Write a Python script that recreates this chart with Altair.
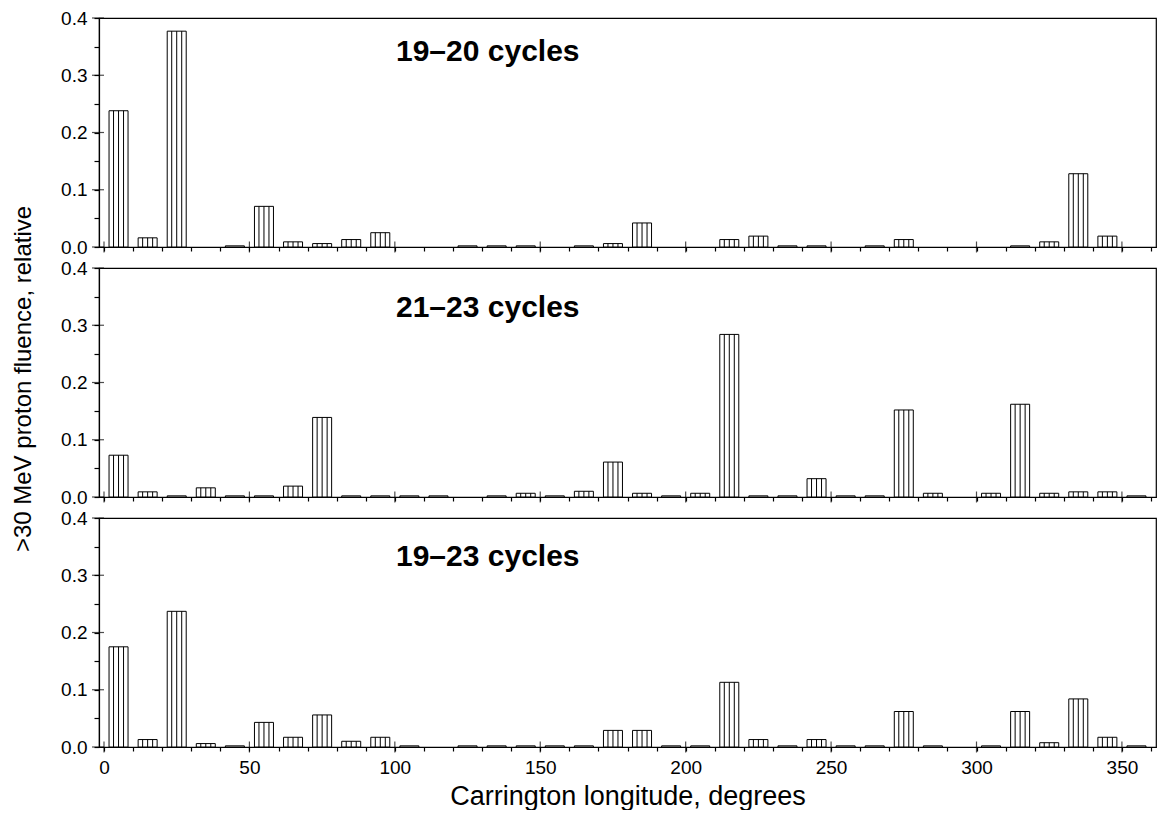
import altair as alt
import pandas as pd

FONT = "Liberation Sans, Arial, sans-serif"

# Carrington longitude bin centres (10-degree bins)
LON = [5, 15, 25, 35, 45, 55, 65, 75, 85, 95, 105, 115, 125, 135, 145, 155, 165, 175,
       185, 195, 205, 215, 225, 235, 245, 255, 265, 275, 285, 295, 305, 315, 325, 335, 345, 355]

C19_20 = [0.238, 0.016, 0.377, 0, 0.002, 0.071, 0.009, 0.006, 0.013, 0.025, 0, 0,
          0.002, 0.002, 0.002, 0, 0.002, 0.006, 0.042, 0, 0, 0.013, 0.019, 0.002,
          0.002, 0, 0.002, 0.013, 0, 0, 0, 0.002, 0.009, 0.128, 0.019, 0]

C21_23 = [0.073, 0.009, 0.002, 0.016, 0.002, 0.002, 0.019, 0.139, 0.002, 0.002, 0.002, 0.002,
          0, 0.002, 0.0065, 0.002, 0.010, 0.061, 0.0065, 0.002, 0.0065, 0.284, 0.002, 0.002,
          0.032, 0.002, 0.002, 0.152, 0.0065, 0, 0.0065, 0.162, 0.0065, 0.009, 0.009, 0.002]

C19_23 = [0.175, 0.013, 0.237, 0.006, 0.002, 0.043, 0.017, 0.056, 0.010, 0.017, 0.002, 0,
          0.002, 0.002, 0.002, 0.002, 0.002, 0.029, 0.029, 0.002, 0.002, 0.113, 0.013, 0.002,
          0.013, 0.002, 0.002, 0.062, 0.002, 0, 0.002, 0.062, 0.0075, 0.084, 0.017, 0.002]

LABELS = ["19\u201320 cycles", "21\u201323 cycles", "19\u201323 cycles"]

X_TICKS = [0, 10, 20, 30, 40, 50, 60, 70, 80, 90, 100, 110, 120, 130, 140, 150, 160, 170, 180,
           190, 200, 210, 220, 230, 240, 250, 260, 270, 280, 290, 300, 310, 320, 330, 340, 350, 360]
X_MAJOR = [0, 50, 100, 150, 200, 250, 300, 350]
Y_TICKS = [0.0, 0.05, 0.1, 0.15, 0.2, 0.25, 0.3, 0.35, 0.4]
Y_MAJOR = [0.0, 0.1, 0.2, 0.3, 0.4]

X_TITLE = "Carrington longitude, degrees"
Y_TITLE = ">30 MeV proton fluence, relative"

W = 1057
H = 229

xscale = alt.Scale(domain=[0, 360], nice=False, zero=False)
yscale = alt.Scale(domain=[0, 0.4], nice=False)


def panel(values, label, label_y, show_x):
    df = pd.DataFrame({"lon": LON, "value": values})
    df = df[df["value"] > 0]

    xaxis = alt.Axis(
        values=X_TICKS, tickSize=4, labels=show_x, labelFlush=False, labelOverlap=False,
        labelExpr="datum.value % 50 == 0 && datum.value < 360 ? datum.label : ''",
        labelPadding=7, titlePadding=6, grid=False, titleFontSize=27,
        title=X_TITLE if show_x else "",
    )
    yaxis = alt.Axis(
        values=Y_TICKS, tickSize=5, labelPadding=7, labelOverlap=False, grid=False,
        labelExpr="round(datum.value * 100) % 10 == 0 ? format(datum.value, '.1f') : ''",
        title="",
    )

    bars = alt.Chart(df).mark_bar(
        orient="vertical", size=19, fill="white", stroke="black", strokeWidth=1
    ).encode(
        x=alt.X("lon:Q", scale=xscale, axis=xaxis),
        y=alt.Y("value:Q", scale=yscale, axis=yaxis),
    )

    hatch_layers = []
    for off in (-5, 0, 5):
        hatch_layers.append(
            alt.Chart(df).transform_filter("datum.value > 0.004").mark_rule(
                color="black", strokeWidth=1, xOffset=off
            ).encode(
                x=alt.X("lon:Q", scale=xscale, axis=xaxis),
                y=alt.Y("value:Q", scale=yscale, axis=yaxis),
                y2=alt.datum(0),
            )
        )

    xt = alt.Chart(pd.DataFrame({"lon": X_MAJOR})).mark_tick(
        orient="vertical", size=11, thickness=1.2, color="black"
    ).encode(
        x=alt.X("lon:Q", scale=xscale, axis=xaxis),
        y=alt.value(H),
    )
    yt = alt.Chart(pd.DataFrame({"value": Y_MAJOR})).mark_tick(
        orient="horizontal", size=12, thickness=1.2, color="black"
    ).encode(
        y=alt.Y("value:Q", scale=yscale, axis=yaxis),
        x=alt.value(-1),
    )

    txt = alt.Chart(pd.DataFrame({"t": [label]})).mark_text(
        align="left", baseline="alphabetic", fontSize=30, fontWeight="bold",
        font=FONT, color="black"
    ).encode(
        x=alt.value(297),
        y=alt.value(label_y),
        text="t:N",
    )

    return alt.layer(bars, *hatch_layers, xt, yt, txt).properties(width=W, height=H)


p1 = panel(C19_20, LABELS[0], 43, False)
p2 = panel(C21_23, LABELS[1], 49, False)
p3 = panel(C19_23, LABELS[2], 48, True)

chart = alt.vconcat(p1, p2, p3, spacing=0).properties(
    padding={"left": 3, "top": 0, "right": 0, "bottom": 0},
    title=alt.TitleParams(
        text=Y_TITLE, orient="left", anchor="middle", fontSize=24, font=FONT,
        fontWeight="normal", color="black", offset=24, dx=30,
    ),
).configure_view(
    stroke="black", strokeWidth=1.2
).configure_axis(
    domainColor="black", domainWidth=1.2, tickColor="black", tickWidth=1.2,
    labelColor="black", titleColor="black", labelFont=FONT, titleFont=FONT,
    labelFontSize=19, titleFontSize=24, titleFontWeight="normal",
)

chart.save("out.html", embed_options={"renderer": "svg", "actions": False})
